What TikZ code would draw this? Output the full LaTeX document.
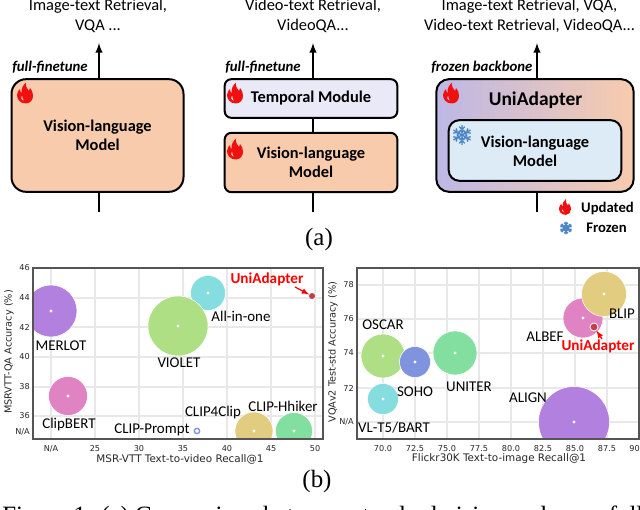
\documentclass[tikz,border=0pt]{standalone}
\usepackage{fontspec}
\setmainfont{Carlito}
\newfontfamily\tickfont{DejaVu Sans}
\newfontfamily\capfont{Liberation Serif}
\usepackage{xcolor}
\usepackage{tikz}
\usetikzlibrary{arrows}
\usetikzlibrary{calc}
\usetikzlibrary{positioning}

\definecolor{modelcol}{HTML}{F8CBAD}
\definecolor{tempcol}{HTML}{E9E9F8}
\definecolor{icecol}{HTML}{DDEBF7}
\definecolor{flamecol}{HTML}{F01010}
\definecolor{flakecol}{HTML}{4A86C5}
\definecolor{gridcol}{HTML}{E8E8E8}
\definecolor{framecol}{HTML}{555555}
\definecolor{ticktext}{HTML}{262626}
\definecolor{purplecol}{HTML}{B280DE}
\definecolor{cyancol}{HTML}{85DDE0}
\definecolor{limecol}{HTML}{AEDF84}
\definecolor{pinkcol}{HTML}{E083C2}
\definecolor{tancol}{HTML}{E2CC80}
\definecolor{mintcol}{HTML}{82DFA0}
\definecolor{slatecol}{HTML}{7F93DE}
\definecolor{unicol}{HTML}{C0404A}
\definecolor{adaptleft}{HTML}{BDB8E6}
\definecolor{adaptmid}{HTML}{C5DEB0}

\tikzset{
  box/.style={draw=black, line width=1.5pt, inner sep=0pt, align=center,
    font=\bfseries\fontsize{12.3}{14.5}\selectfont},
  flow/.style={-latex, line width=1.5pt},
  task/.style={align=center, font=\fontsize{12.3}{15}\selectfont},
  tag/.style={font=\bfseries\itshape\fontsize{11.1}{12}\selectfont, inner sep=0pt},
  tick/.style={text=ticktext, inner sep=0pt, font=\tickfont\fontsize{6.1}{7}\selectfont},
  axname/.style={text=ticktext, inner sep=0pt, font=\tickfont\fontsize{7.8}{8}\selectfont},
  yname/.style={text=ticktext, inner sep=0pt, font=\tickfont\fontsize{7.3}{8}\selectfont},
  modelname/.style={inner sep=0pt, font=\fontsize{11.2}{12}\selectfont},
  uniname/.style={inner sep=0pt, text=red, font=\bfseries\fontsize{11.4}{12}\selectfont},
  keyname/.style={inner sep=0pt, font=\bfseries\fontsize{11}{12}\selectfont},
  part/.style={inner sep=0pt, font=\capfont\fontsize{18.7}{20}\selectfont},
  bubble/.style={circle, fill=#1, draw=white, line width=0.4pt, inner sep=0pt},
  centre/.style={circle, fill=white, inner sep=0pt, minimum size=2.4pt},
  flame/.pic={
    \fill[flamecol, even odd rule]
      (1,10.5) .. controls (-5,10.5) and (-8,6) .. (-8,2)
      .. controls (-8,-1) and (-6,-3) .. (-5,-4)
      .. controls (-5,-2) and (-4.5,-1) .. (-3.5,0)
      .. controls (-4,-4) and (-2,-8) .. (1,-10.5)
      .. controls (0.5,-7) and (2,-4) .. (4,-2)
      .. controls (4.5,-2.5) and (5,-3.5) .. (5,-5)
      .. controls (7.5,-2) and (8,1) .. (8,3)
      .. controls (8,7) and (5,10.5) .. (1,10.5) -- cycle
      (-1,8) .. controls (-4,7) and (-5,4) .. (-3,2)
      .. controls (-3,4) and (-2,5) .. (-1,8) -- cycle;
  },
  flake/.pic={
    \foreach \ang in {0,60,...,300} {
      \draw[flakecol, line width=1pt, rotate=\ang]
        (0,0) -- (0,-9) (-2.6,-7.6) -- (0,-5) -- (2.6,-7.6)
        (-2,-4.4) -- (0,-2.4) -- (2,-4.4);
    }
  }
}

\begin{document}
\begin{tikzpicture}[x=0.75pt, y=-0.75pt]

  \useasboundingbox (0,0) rectangle (640,510);
  \begin{scope}
  \clip (0,0) rectangle (640,510);

  % panel (a)
  \node [box, fill=modelcol, rounded corners=11pt, minimum width=129pt, minimum height=84.5pt]
    (plain) at (97.5,135.5) {Vision-language\\Model};
  \node [box, fill=tempcol, rounded corners=5pt, minimum width=129.5pt, minimum height=29pt]
    (temporal) at (311,98.5) {Temporal Module};
  \node [box, fill=modelcol, rounded corners=5pt, minimum width=129.5pt, minimum height=44.5pt]
    (video) at (311,162.5) {Vision-language\\Model};
  \node [box, rounded corners=9.5pt, minimum width=148pt, minimum height=84.5pt,
    left color=adaptleft, middle color=adaptmid, right color=modelcol]
    (adapter) at (535,135.5) {};
  \node [box, fill=icecol, rounded corners=8pt, minimum width=129.5pt, minimum height=45.5pt]
    (frozen) at (535,150.5) {};
  \node [inner sep=0pt, align=center, font=\bfseries\fontsize{12.3}{14.5}\selectfont]
    (frozentext) at (535,151.5) {Vision-language\\Model};
  \node [inner sep=0pt, font=\bfseries\fontsize{14.6}{15}\selectfont]
    (adaptertext) at (535.5,100) {UniAdapter};

  \coordinate (plainout) at (99,43);
  \coordinate (plainin) at (99,212);
  \coordinate (videoout) at (313,43);
  \coordinate (videoin) at (313,212);
  \coordinate (adapterout) at (537,43);
  \coordinate (adapterin) at (537,212);

  \draw [flow] (plain.north -| plainout) -- (plainout);
  \draw [line width=1.5pt] (plainin) -- (plain.south -| plainin);
  \draw [flow] (temporal.north -| videoout) -- (videoout);
  \draw [line width=1.5pt] (temporal.south -| videoout) -- (video.north -| videoout);
  \draw [line width=1.5pt] (videoin) -- (video.south -| videoin);
  \draw [flow] (adapter.north -| adapterout) -- (adapterout);
  \draw [line width=1.5pt] (adapterin) -- (adapter.south -| adapterin);

  \node [task] (plaintask) at (98,16) {Image-text Retrieval,\\VQA ...};
  \node [task] (videotask) at (313,16) {Video-text Retrieval,\\VideoQA...};
  \node [task] (adaptertask) at (529.5,16) {Image-text Retrieval, VQA,\\Video-text Retrieval, VideoQA...};

  \node [tag, anchor=west] (plaintag) at (12,67) {full-finetune};
  \node [tag, anchor=west] (videotag) at (225,67) {full-finetune};
  \node [tag, anchor=west] (adaptertag) at (431,67) {frozen backbone};

  \pic (f1) at (25,93) {flame};
  \pic (f2) at (235,93) {flame};
  \pic (f3) at (235,149) {flame};
  \pic (f4) at (451,93) {flame};
  \pic (f5) [scale=0.75] at (565,207) {flame};
  \pic (s1) [scale=1.1] at (462,135) {flake};
  \pic (s2) [scale=0.7] at (566,228) {flake};

  \node [keyname] (updated) at (607.5,209) {Updated};
  \node [keyname] (frozenkey) at (606.5,228) {Frozen};

  \node [part] (parta) at (319,240) {(a)};

  % left plot
  \foreach \px in {51,95,139,183,227,271,315} {
    \draw [gridcol, line width=1pt] (\px,268) -- (\px,439);
  }
  \foreach \py in {298,327,357,387,416} {
    \draw [gridcol, line width=1pt] (33,\py) -- (323,\py);
  }
  \begin{scope}
    \clip (33,268) rectangle (323,439);
    \foreach \name/\px/\py/\rad/\col in {
      merlot/51/311/26/purplecol, allinone/208/293/17.5/cyancol,
      violet/178/326/30/limecol, clipbert/68/396/19.5/pinkcol,
      clipfour/254/431/19/tancol, hhiker/294/431/18.5/mintcol} {
      \node [bubble=\col, minimum size=1.5pt*\rad] (\name) at (\px,\py) {};
      \node [centre] (\name dot) at (\name) {};
    }
    \node [circle, draw=slatecol, line width=1pt, fill=white, inner sep=0pt, minimum size=4pt] (prompt) at (197,431) {};
    \node [circle, fill=unicol, inner sep=0pt, minimum size=4.5pt] (uniA) at (312,296) {};
  \end{scope}
  \draw [framecol, line width=0.9pt] (33,268) rectangle (323,439);

  \node [modelname] (merlotname) at (61,346) {MERLOT};
  \node [modelname] (allinonename) at (241,316) {All-in-one};
  \node [modelname] (violetname) at (179,363) {VIOLET};
  \node [modelname] (clipbertname) at (69,425) {ClipBERT};
  \node [modelname] (promptname) at (152,430) {CLIP-Prompt};
  \node [modelname] (clipfourname) at (213,413) {CLIP4Clip};
  \node [modelname] (hhikername) at (283,406) {CLIP-Hhiker};
  \node [uniname] (uniAname) at (267,279) {UniAdapter};
  \coordinate (uniAtail) at (295,287);
  \draw [-latex, red, line width=0.9pt] (uniAtail) -- (uniA);

  \foreach \px/\txt in {51/N\slash A,95/25,139/30,183/35,227/40,271/45,315/50} {
    \node [tick] at (\px,449) {\txt};
  }
  \foreach \py/\txt in {268/46,298/44,327/42,357/40,387/38,416/36} {
    \node [tick, anchor=east] at (30,\py) {\txt};
  }
  \node [tick, anchor=east] at (30,432) {N\slash A};
  \node [axname] (xnameA) at (180,459) {MSR-VTT Text-to-video Recall@1};
  \node [yname, rotate=90] (ynameA) at (9,352) {MSRVTT-QA Accuracy (\%)};

  % right plot
  \foreach \px in {383,415,447,479,511,543,575,607} {
    \draw [gridcol, line width=1pt] (\px,268) -- (\px,439);
  }
  \foreach \py in {285,319,353,388,422} {
    \draw [gridcol, line width=1pt] (357,\py) -- (639,\py);
  }
  \begin{scope}
    \clip (357,268) rectangle (639,439);
    \foreach \name/\px/\py/\rad/\col in {
      oscar/383/356/22/limecol, uniter/455/353/22/mintcol,
      soho/415/362/15.5/slatecol, vlbart/383/399/15.5/cyancol,
      align/574/422/35.5/purplecol, albef/583/318/20/pinkcol,
      blip/604/294/22.5/tancol} {
      \node [bubble=\col, minimum size=1.5pt*\rad] (\name) at (\px,\py) {};
      \node [centre] (\name dot) at (\name) {};
    }
    \node [circle, fill=unicol, draw=white, line width=0.6pt, inner sep=0pt, minimum size=6pt] (uniB) at (594,327) {};
  \end{scope}
  \draw [framecol, line width=0.9pt] (357,268) rectangle (639,439);

  \node [modelname] (oscarname) at (383,325) {OSCAR};
  \node [modelname] (sohoname) at (415,392) {SOHO};
  \node [modelname] (unitername) at (469,387) {UNITER};
  \node [modelname] (vlbartname) at (394,428) {VL-T5/BART};
  \node [modelname] (albefname) at (545,337) {ALBEF};
  \node [modelname] (blipname) at (622,314) {BLIP};
  \node [modelname] (alignname) at (528,398) {ALIGN};
  \node [uniname] (uniBname) at (598,346) {UniAdapter};
  \coordinate (uniBtail) at (602,339);
  \draw [-latex, red, line width=0.9pt] (uniBtail) -- (uniB);

  \foreach \px/\txt in {383/70.0,415/72.5,447/75.0,479/77.5,511/80.0,543/82.5,575/85.0,607/87.5} {
    \node [tick] at (\px,449) {\txt};
  }
  \node [tick, anchor=east] at (640,449) {90};
  \foreach \py/\txt in {285/78,319/76,353/74,388/72} {
    \node [tick, anchor=east] at (354,\py) {\txt};
  }
  \node [tick, anchor=east] at (354,422) {N\slash A};
  \node [axname] (xnameB) at (499,459) {Flickr30K Text-to-image Recall@1};
  \node [yname, rotate=90] (ynameB) at (333,352) {VQAv2 Test-std Accuracy (\%)};

  \node [part] (partb) at (317,482) {(b)};

  \node [part, anchor=base west] (caption) at (2,523)
    {Figure 1: (a) Comparison between standard vision and\hspace{42pt} full};
  \end{scope}

\end{tikzpicture}
\end{document}
